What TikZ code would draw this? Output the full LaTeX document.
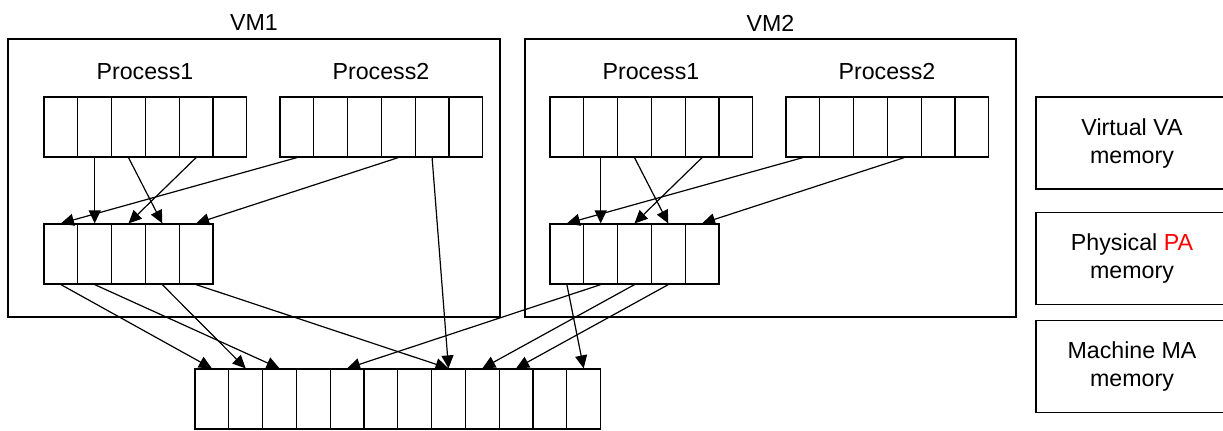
\documentclass[tikz,border=0pt]{standalone}
\usepackage{fontspec}
\setmainfont{Liberation Sans}
\usetikzlibrary{arrows.meta}
\tikzset{
  cell/.style={draw, line width=0.6pt, minimum width=16.9pt, minimum height=30pt, inner sep=0pt},
  vmbox/.style={draw, line width=0.6pt, inner sep=0pt},
  legendbox/.style={draw, line width=0.6pt, minimum width=96pt, minimum height=46pt, align=center, inner sep=0pt}
}

\begin{document}
\begin{tikzpicture}[x=0.5pt, y=-0.5pt, >={Triangle[length=6.5pt,width=6pt]}, line width=0.6pt,
  every node/.append style={font=\fontsize{11.6pt}{14pt}\selectfont}]
\useasboundingbox (0,0) rectangle (1223,430);
\node[vmbox, minimum width=246pt, minimum height=139pt] (vm1) at (254,178) {};
\node[vmbox, minimum width=245.5pt, minimum height=139pt] (vm2) at (770.5,178) {};
\node (vm1lbl) at (254,23) {VM1};
\node (vm2lbl) at (770.5,23) {VM2};
\node (v1p1lbl) at (145,71.5) {Process1};
\node (v1p2lbl) at (381,71.5) {Process2};
\node (v2p1lbl) at (651,71.5) {Process1};
\node (v2p2lbl) at (887,71.5) {Process2};
\foreach \i in {1,...,6} {
  \node[cell] (v1p1-\i) at ({44+33.8*(\i-0.5)},127) {};
  \node[cell] (v1p2-\i) at ({280+33.8*(\i-0.5)},127) {};
  \node[cell] (v2p1-\i) at ({550+33.8*(\i-0.5)},127) {};
  \node[cell] (v2p2-\i) at ({786+33.8*(\i-0.5)},127) {};
}
\foreach \i in {1,...,5} {
  \node[cell] (v1pa-\i) at ({44+33.8*(\i-0.5)},254) {};
  \node[cell] (v2pa-\i) at ({550+33.8*(\i-0.5)},254) {};
}
\foreach \i in {1,...,12} {\node[cell] (ma-\i) at ({195+33.8*(\i-0.5)},399) {};}
\foreach \v in {1,2} {
  \foreach \a/\b in {2/2,3/4,5/3} {\draw[->] (v\v p1-\a.south) -- (v\v pa-\b.north);}
  \foreach \a/\b in {1/1,4/5} {\draw[->] (v\v p2-\a.south) -- (v\v pa-\b.north);}
}
\draw[->] (v1p2-5.south) -- (ma-8.north);
\foreach \a/\b in {1/1,2/3,4/2,5/8} {\draw[->] (v1pa-\a.south) -- (ma-\b.north);}
\foreach \a/\b in {1/12,2/5,3/9,4/10} {\draw[->] (v2pa-\a.south) -- (ma-\b.north);}
\node[legendbox] (vamem) at (1132,143) {Virtual VA\\memory};
\node[legendbox] (pamem) at (1132,258.5) {Physical \textcolor{red}{PA}\\memory};
\node[legendbox] (mamem) at (1132,366.5) {Machine MA\\memory};
\end{tikzpicture}
\end{document}
